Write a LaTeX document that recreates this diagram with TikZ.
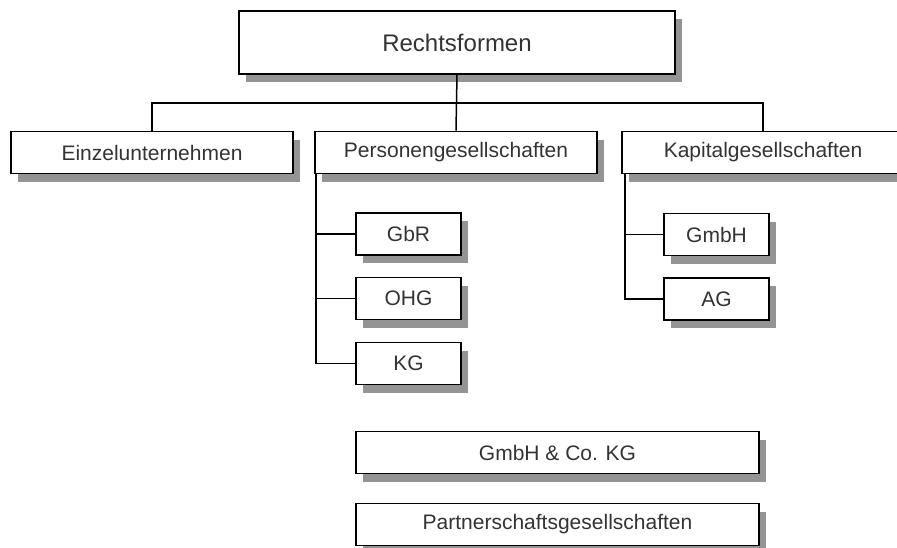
\documentclass[tikz,border=0pt]{standalone}
\usepackage{fontspec}
\setmainfont{Liberation Sans}
\usepackage{tikz}
\usetikzlibrary{positioning, shadows}

\begin{document}
\begin{tikzpicture}[
  x=1pt, y=-1pt,
  font=\fontsize{21}{24}\selectfont,
  box/.style={draw, fill=white, line width=1.7pt, inner sep=0pt,
    minimum height=42pt, text=black!80,
    drop shadow={shadow xshift=7pt, shadow yshift=-8pt, fill=black!42,
      opacity=1}},
  wide/.style={box, minimum width=282pt},
  small/.style={box, minimum width=105pt},
  link/.style={line width=1.5pt},
]
  \useasboundingbox (0,0) rectangle (897,547);
  \clip (0,0) rectangle (897,547);

  \node[box, minimum width=436pt, minimum height=63pt,
    font=\fontsize{24}{28}\selectfont] (R) at (457,42.5) {Rechtsformen};

  \node[wide] (E) at (152,152.5) {Einzelunternehmen};
  \node[wide] (P) at (456,152.5) {Personengesellschaften};
  \node[wide] (K) at (763,152.5) {Kapitalgesellschaften};

  \node[small] (gbr) at (408.5,234) {GbR};
  \node[small] (ohg) at (408.5,298.5) {OHG};
  \node[small] (kg)  at (408.5,363.5) {KG};

  \node[small] (gmbh) at (716.5,234.5) {GmbH};
  \node[small] (ag)   at (716.5,299) {AG};

  \node[box, minimum width=403pt] (gmbhkg) at (557.5,452.5) {GmbH \& Co. KG};
  \node[box, minimum width=403pt] (pg) at (557.5,524.5) {Partnerschaftsgesellschaften};

  \coordinate (bus) at (457,103);
  \draw[link] (R.south) -- (P.north);
  \draw[link] (E.north) |- (bus) -| (K.north);

  \draw[link] ([xshift=2pt]P.south west) |- (gbr.west);
  \draw[link] ([xshift=2pt]P.south west) |- (ohg.west);
  \draw[link] ([xshift=2pt]P.south west) |- (kg.west);

  \draw[link] ([xshift=4pt]K.south west) |- (gmbh.west);
  \draw[link] ([xshift=4pt]K.south west) |- (ag.west);
\end{tikzpicture}
\end{document}
